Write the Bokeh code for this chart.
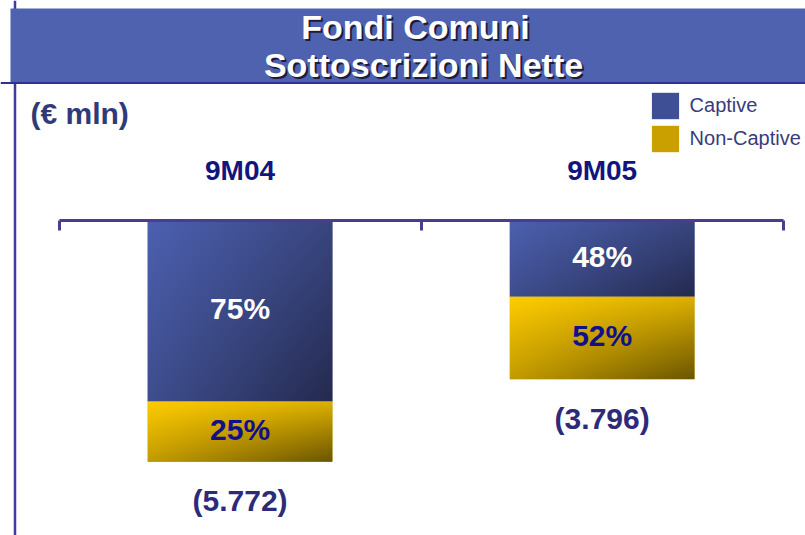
import numpy as np
from bokeh.plotting import figure
from bokeh.models import (Range1d, LinearAxis, FixedTicker, Label, BoxAnnotation, Span,
                          Legend, LegendItem)
from bokeh.core.properties import value
from bokeh.embed import file_html
from bokeh.resources import INLINE

# ---------------- data ----------------
categories = ["9M04", "9M05"]
totals = [5772, 3796]            # net flows, € mln (shown in parentheses = negative)
captive_pct = [75, 48]
noncaptive_pct = [25, 52]
series_names = ["Captive", "Non-Captive"]
title_lines = ["Fondi Comuni", "Sottoscrizioni Nette"]
unit_label = "(€ mln)"

# ---------------- style ----------------
W, H = 805, 535
FONT = "Liberation Sans"
NAVY = "#14147E"
AXIS_C = "#4B3C8E"
TOTAL_C = "#2E2A7A"
BAR_W = 0.51

n = len(categories)
xc = [i + 0.5 for i in range(n)]
cap_vals = [t * c / 100 for t, c in zip(totals, captive_pct)]
non_vals = [t * c / 100 for t, c in zip(totals, noncaptive_pct)]
cap_bot = [-v for v in cap_vals]
non_bot = [-(a + b) for a, b in zip(cap_vals, non_vals)]

p = figure(width=W, height=H, output_backend="svg", toolbar_location=None, title=None,
           x_range=Range1d(-0.1616, 2.0616), y_range=Range1d(-7536, 5263),
           x_axis_location=None, y_axis_location=None, min_border=0,
           outline_line_color=None, background_fill_color="white",
           border_fill_color="white")
p.grid.visible = False

# solid bars (used by the legend) ...
r_cap = p.vbar(x=xc, top=0, bottom=cap_bot, width=BAR_W,
               fill_color="#3E4F95", line_color=None)
r_non = p.vbar(x=xc, top=cap_bot, bottom=non_bot, width=BAR_W,
               fill_color="#C9A000", line_color=None)


def gradient(c0, c1, a, b, c, nx=128, ny=128):
    u = np.linspace(0, 1, nx)[None, :]
    v = np.linspace(1, 0, ny)[:, None]          # row 0 = bottom
    t = np.clip(a * u + b * v + c * u * v, 0, 1)
    c0 = np.array(c0, dtype=float)
    c1 = np.array(c1, dtype=float)
    rgb = c0 * (1 - t)[..., None] + c1 * t[..., None]
    img = np.empty((ny, nx), dtype=np.uint32)
    view = img.view(dtype=np.uint8).reshape((ny, nx, 4))
    view[..., :3] = np.round(rgb).astype(np.uint8)
    view[..., 3] = 255
    return img


blue_img = gradient((0x4C, 0x60, 0xB0), (0x24, 0x2A, 0x4E), 0.5, 0.35, 0.15)
gold_img = gradient((0xFF, 0xCC, 0x00), (0x6B, 0x55, 0x00), 0.23, 0.41, 0.36)

# ... overlaid with gradient shading
p.image_rgba(image=[blue_img] * n, x=[x - BAR_W / 2 for x in xc], y=cap_bot,
             dw=[BAR_W] * n, dh=cap_vals)
p.image_rgba(image=[gold_img] * n, x=[x - BAR_W / 2 for x in xc], y=non_bot,
             dw=[BAR_W] * n, dh=non_vals)

# percentage labels
p.text(x=xc, y=[-v / 2 for v in cap_vals], text=[f"{c}%" for c in captive_pct],
       text_color="white", text_font=value(FONT), text_font_style="bold",
       text_font_size="30px", text_align="center", text_baseline="middle", y_offset=-2)
p.text(x=xc, y=[(a + b) / 2 for a, b in zip(cap_bot, non_bot)],
       text=[f"{c}%" for c in noncaptive_pct],
       text_color="#10108A", text_font=value(FONT), text_font_style="bold",
       text_font_size="30px", text_align="center", text_baseline="middle", y_offset=-2)
# totals
p.text(x=xc, y=non_bot, text=["(" + f"{t:,}".replace(",", ".") + ")" for t in totals],
       text_color=TOTAL_C, text_font=value(FONT), text_font_style="bold",
       text_font_size="30px", text_align="center", text_baseline="middle", y_offset=39)

# category axis (line + boundary ticks)
ax = LinearAxis(fixed_location=0, bounds=(0, n), ticker=FixedTicker(ticks=list(range(n + 1))),
                axis_line_color=AXIS_C, axis_line_width=3,
                major_tick_line_color=AXIS_C, major_tick_line_width=3,
                major_tick_in=10, major_tick_out=0, minor_tick_line_color=None,
                major_label_text_color=None)
p.add_layout(ax, "above")
# category labels
lab_ax = LinearAxis(fixed_location=0, ticker=FixedTicker(ticks=xc),
                    major_label_overrides={x: c for x, c in zip(xc, categories)},
                    axis_line_color=None, major_tick_line_color=None,
                    minor_tick_line_color=None, major_tick_in=0, major_tick_out=0,
                    major_label_standoff=34, major_label_text_font=FONT,
                    major_label_text_font_style="bold", major_label_text_font_size="28px",
                    major_label_text_color=NAVY)
p.add_layout(lab_ax, "above")

# frame decorations
p.add_layout(Span(location=14.5, location_units="screen", dimension="height",
                  line_color="#3C3C9C", line_width=2.5))
p.add_layout(BoxAnnotation(left=10, right=W, bottom=453, top=527,
                           left_units="screen", right_units="screen",
                           bottom_units="screen", top_units="screen",
                           fill_color="#4F62AF", fill_alpha=1, line_color=None))
p.add_layout(Span(location=452.5, location_units="screen", dimension="width",
                  line_color="#2E3192", line_width=2))

for txt, (lx, ly) in zip(title_lines, [(415, 508.5), (423, 470.5)]):
    p.add_layout(Label(x=lx + 2, y=ly - 2, x_units="screen", y_units="screen", text=txt,
                       text_font=FONT, text_font_style="bold", text_font_size="34px",
                       text_color="#1C1C3C", text_align="center", text_baseline="middle"))
    p.add_layout(Label(x=lx, y=ly, x_units="screen", y_units="screen", text=txt,
                       text_font=FONT, text_font_style="bold", text_font_size="34px",
                       text_color="white", text_align="center", text_baseline="middle"))

p.add_layout(Label(x=30, y=421.7, x_units="screen", y_units="screen", text=unit_label,
                   text_font=FONT, text_font_style="bold", text_font_size="30px",
                   text_color="#2F3A78", text_align="left", text_baseline="middle"))

legend = Legend(items=[LegendItem(label=series_names[0], renderers=[r_cap]),
                       LegendItem(label=series_names[1], renderers=[r_non])],
                location=(647.6, 380), orientation="vertical",
                glyph_width=34, glyph_height=33, label_height=33, label_width=20,
                spacing=0, padding=0, margin=0, label_standoff=8,
                border_line_color=None, background_fill_alpha=0,
                label_text_font=FONT, label_text_font_size="20px",
                label_text_color="#383C78")
p.add_layout(legend)

open("out.html", "w").write(file_html(p, INLINE))
